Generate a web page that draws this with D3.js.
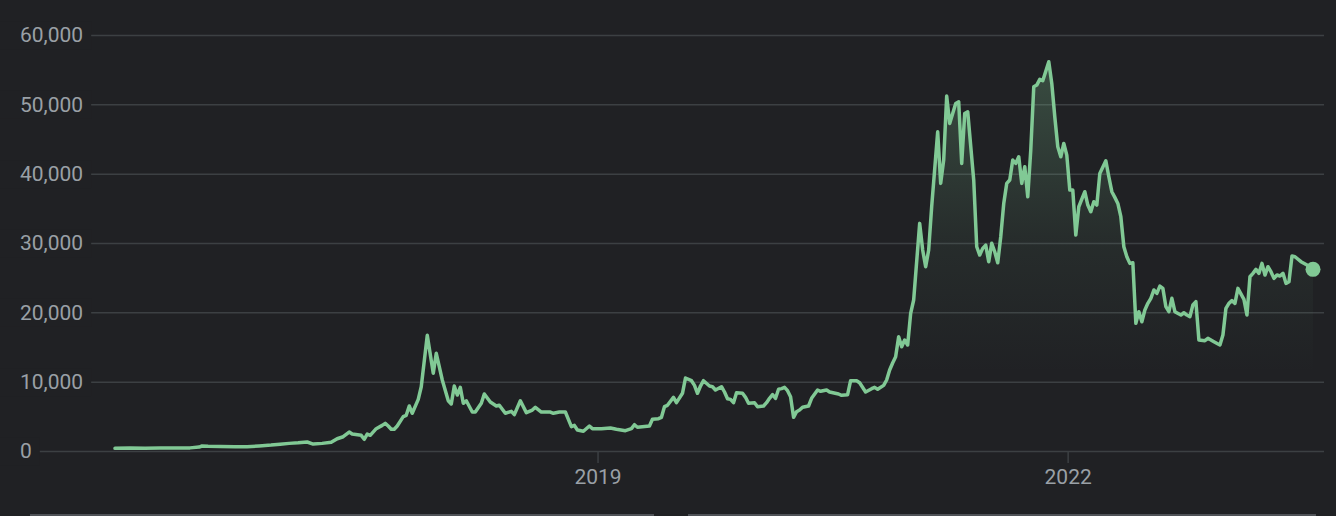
<!DOCTYPE html>
<html>
<head>
<meta charset="utf-8">
<script src="https://cdn.jsdelivr.net/npm/d3@7"></script>
<style>
  html, body { margin: 0; padding: 0; background: #202124; }
  svg { display: block; }
</style>
</head>
<body>
<div id="chart"></div>
<script>
// ---- data (weekly closes, week offset from first week) ----
const startDay = "2015-12-03";
const weeks = [0,5,10,15,20,25,28,29,31,35,40,44,48,52,55,58,61,64,66,69,72,74,76,78,79,82,83,84,85,87,89,90,91,92,93,94,96,97,98,99,101,102,104,106,107,108,109,111,112,113,114,115,116,117,119,120,122,123,125,127,128,130,132,133,135,137,139,140,142,145,146,148,150,152,153,154,156,158,159,162,165,167,170,172,173,174,178,179,181,182,183,184,186,187,189,190,192,193,194,195,196,198,199,200,202,203,204,205,206,207,209,210,211,213,214,216,217,218,219,220,221,222,223,224,225,226,227,228,229,231,232,234,235,237,238,241,242,244,245,247,248,250,252,253,254,256,257,258,259,260,261,262,263,264,265,266,268,269,270,271,272,274,275,276,277,278,280,281,282,283,284,286,287,288,289,290,291,292,293,294,295,296,297,298,299,300,301,302,303,304,305,306,307,308,309,311,312,313,314,315,316,317,318,319,320,321,323,324,325,326,327,328,330,331,332,333,334,335,336,337,338,339,340,341,342,343,344,345,346,347,348,349,350,351,352,353,355,356,357,358,359,360,361,363,364,366,368,369,370,371,372,373,374,376,377,378,379,380,381,382,383,384,385,386,387,388,389,390,391,392,393,395,397,399];
const prices = [380,420,400,420,430,450,560,720,680,640,600,620,720,850,980,1100,1180,1300,1000,1100,1250,1770,2060,2740,2450,2260,1690,2450,2260,3220,3700,3990,3600,3130,3130,3600,4950,5150,6490,5440,7450,9270,16680,11200,14090,12160,10240,7250,6780,9370,8070,9180,6880,7250,5620,5620,6880,8220,7060,6490,6590,5440,5720,5240,7250,5530,5910,6300,5620,5620,5440,5620,5620,3510,3700,3030,2840,3600,3220,3220,3320,3130,2930,3220,3790,3420,3600,4570,4660,4860,6390,6590,7740,6970,8320,10530,10140,9470,8320,9370,10140,9370,9270,8800,9270,8510,7540,7450,6970,8410,8320,7740,6880,6970,6390,6490,6970,7600,8120,7600,8900,9000,9180,8700,7830,4860,5670,5910,6300,6490,7600,8800,8610,8800,8510,8220,8030,8120,10140,10140,9850,8510,8990,9180,8900,9470,10240,11680,12700,13600,16480,15040,16010,15290,19860,21780,32830,28990,26580,28990,35230,46040,38600,41960,51190,47250,50130,50370,41480,48690,48930,39080,29460,28260,29230,29700,27300,29950,28740,27150,30900,35700,38600,39080,41960,41480,42440,38600,41000,36670,43400,52530,52780,53600,53400,56140,53020,48210,43880,42440,44360,42680,37640,37640,31150,35230,37400,35470,34510,35950,35470,40040,41860,39550,37400,36580,35710,33790,29460,28020,27060,27150,18410,20090,18640,20330,21300,22020,23220,22740,23790,23460,20810,20090,22020,20090,19610,19940,19610,19370,21060,21540,16010,15910,16250,15770,15290,16730,20580,21300,21680,21300,23460,21880,19610,25130,25620,26200,25620,27060,25380,26580,25860,24900,25380,25240,25620,24180,24420,28120,28020,27300,26820,26200];
const yTicks = [0, 10000, 20000, 30000, 40000, 50000, 60000];
const xTickDates = ["2019-01-01", "2022-01-01"];

// ---- layout ----
const W = 1336, H = 516;
const mLeft = 115, mRight = 1313, mTop = 35, mBottom = 451;
const lineColor = "#81c995", bg = "#202124", gridColor = "#3c4043", textColor = "#9aa0a6";
const fontFam = "Roboto, 'Noto Sans', sans-serif", fontSize = 21;

const parse = d3.utcParse("%Y-%m-%d");
const t0 = parse(startDay);
const data = weeks.map((w, i) => ({ date: d3.utcDay.offset(t0, 7 * w), value: prices[i] }));

const x = d3.scaleUtc().domain(d3.extent(data, d => d.date)).range([mLeft, mRight]);
const y = d3.scaleLinear().domain([0, 60000]).range([mBottom, mTop]);

const svg = d3.select("#chart").append("svg").attr("width", W).attr("height", H);
svg.append("rect").attr("width", W).attr("height", H).attr("fill", bg);

const defs = svg.append("defs");
const grad = defs.append("linearGradient").attr("id", "area-grad")
  .attr("gradientUnits", "userSpaceOnUse")
  .attr("x1", 0).attr("x2", 0).attr("y1", y(d3.max(prices))).attr("y2", mBottom);
grad.append("stop").attr("offset", 0).attr("stop-color", lineColor).attr("stop-opacity", 0.26);
grad.append("stop").attr("offset", 0.45).attr("stop-color", lineColor).attr("stop-opacity", 0.07);
grad.append("stop").attr("offset", 0.8).attr("stop-color", lineColor).attr("stop-opacity", 0);

// gridlines
const yAxis = d3.axisLeft(y).tickValues(yTicks).tickFormat(d3.format(",")).tickSize(-(1324 - 20)).tickPadding(0);
const gy = svg.append("g").attr("transform", "translate(20,0)").call(yAxis);
gy.select(".domain").remove();
gy.selectAll(".tick line").attr("stroke", gridColor).attr("stroke-width", 1.5);
gy.selectAll(".tick text").remove();

// x axis ticks
const xAxis = d3.axisBottom(x).tickValues(xTickDates.map(parse)).tickFormat(d3.utcFormat("%Y")).tickSize(12).tickPadding(6);
const gx = svg.append("g").attr("transform", `translate(0,${mBottom})`).call(xAxis);
gx.select(".domain").remove();
gx.selectAll(".tick line").attr("stroke", gridColor).attr("stroke-width", 1.5);
gx.selectAll(".tick text").attr("fill", textColor).attr("font-family", fontFam).attr("font-size", fontSize);

// area + line
const area = d3.area().x(d => x(d.date)).y0(mBottom).y1(d => y(d.value));
svg.append("path").datum(data).attr("d", area).attr("fill", "url(#area-grad)");
const line = d3.line().x(d => x(d.date)).y(d => y(d.value));
svg.append("path").datum(data).attr("d", line).attr("fill", "none")
  .attr("stroke", lineColor).attr("stroke-width", 3.5).attr("stroke-linejoin", "round").attr("stroke-linecap", "round");

// end dot
const last = data[data.length - 1];
svg.append("circle").attr("cx", x(last.date)).attr("cy", y(last.value)).attr("r", 7.5).attr("fill", lineColor);

// y labels with background to cut gridlines
const fmt = d3.format(",");
const labels = svg.append("g");
yTicks.forEach(v => {
  const g = labels.append("g");
  const t = g.append("text").attr("x", 20).attr("y", y(v)).attr("dy", "0.35em")
    .attr("fill", textColor).attr("font-family", fontFam).attr("font-size", fontSize)
    .text(fmt(v));
  const bb = t.node().getBBox();
  g.insert("rect", "text").attr("x", 0).attr("y", bb.y - 2).attr("width", bb.x + bb.width + 8).attr("height", bb.height + 4).attr("fill", bg);
});

// bottom card edges (decorative)
svg.append("line").attr("x1", 30).attr("x2", 654).attr("y1", 515).attr("y2", 515).attr("stroke", "#5f6368").attr("stroke-width", 1.5);
svg.append("line").attr("x1", 688).attr("x2", 1316).attr("y1", 515).attr("y2", 515).attr("stroke", "#5f6368").attr("stroke-width", 1.5);
</script>
</body>
</html>
